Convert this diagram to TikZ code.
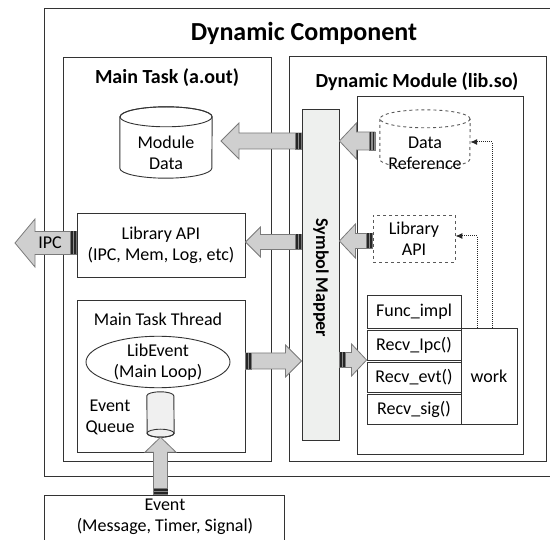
\documentclass[tikz,border=0pt]{standalone}
\usepackage{fontspec}
\setmainfont{Carlito}
\usetikzlibrary{calc,arrows.meta,shapes.geometric}
\definecolor{mapfill}{HTML}{EEF0EE}
\definecolor{arrfill}{HTML}{CFCFCF}
\definecolor{arrline}{HTML}{7A7A7A}
\newcommand\fatarrow[5]{%
  \coordinate (FT) at (#1);
  \coordinate (FH) at (#2);
  \coordinate (FB) at ($(FH)!#5pt!(FT)$);
  \coordinate (FE) at ($(FT)!6pt!(FH)$);
  \coordinate (FE1) at ($(FT)!1.5pt!(FH)$);
  \coordinate (FE2) at ($(FT)!4.5pt!(FH)$);
  \filldraw[fatarrow] ($(FT)!#3pt!90:(FH)$) -- ($(FB)!#3pt!90:(FH)$) -- ($(FB)!#4pt!90:(FH)$) -- (FH) -- ($(FB)!#4pt!-90:(FH)$) -- ($(FB)!#3pt!-90:(FH)$) -- ($(FT)!#3pt!-90:(FH)$) -- cycle;
  \filldraw[fill=black!45, draw=arrline, line width=0.6pt] ($(FT)!#3pt!90:(FH)$) -- ($(FE)!#3pt!90:(FH)$) -- ($(FE)!#3pt!-90:(FH)$) -- ($(FT)!#3pt!-90:(FH)$) -- cycle;
  \draw[black!85, line width=1.6pt] ($(FE1)!#3pt!90:(FH)$) -- ($(FE1)!#3pt!-90:(FH)$);
  \draw[black!85, line width=1.6pt] ($(FE2)!#3pt!90:(FH)$) -- ($(FE2)!#3pt!-90:(FH)$);
}
\begin{document}
\begin{tikzpicture}[x=1pt,y=-1pt,
  frame/.style={draw=black!80, line width=1pt, rectangle, inner sep=0pt},
  box/.style={draw=black!80, line width=0.9pt, rectangle, inner sep=0pt, fill=white},
  ghost/.style={rectangle, inner sep=0pt},
  txt/.style={font=\fontsize{18}{21}\selectfont, align=center, inner sep=0pt},
  ttl/.style={font=\bfseries\fontsize{20}{24}\selectfont, inner sep=0pt},
  fatarrow/.style={fill=arrfill, draw=arrline, line width=0.8pt, line join=miter},
  dotarrow/.style={densely dotted, line width=1pt, black!85, -{Latex[length=7pt,width=6pt]}},
  cyl/.style={line width=0.9pt, draw=black!80},
]
\useasboundingbox (0,0) rectangle (550,540);
% frames
\node[frame, minimum width=508, minimum height=468] (outer) at (298,243) {};
\node[ttl, font=\bfseries\fontsize{26}{30}\selectfont] (title) at (304,33) {Dynamic Component};
\node[frame, minimum width=208, minimum height=404] (main) at (167,260) {};
\node[ttl] (maintitle) at (167,78) {Main Task (a.out)};
\node[frame, minimum width=257, minimum height=405] (dyn) at (417.5,259.5) {};
\node[ttl] (dyntitle) at (417,82) {Dynamic Module (lib.so)};
\node[frame, minimum width=166, minimum height=358] (inner) at (440,276) {};
\node[box, fill=mapfill, minimum width=37, minimum height=331] (mapper) at (320.5,274.5) {};
\node[txt, font=\bfseries\fontsize{18}{21}\selectfont, rotate=-90] (maptxt) at (321,278) {Symbol Mapper};
% Module data cylinder
\node[ghost, minimum width=92, minimum height=71] (moddata) at (166,142.5) {};
\draw[cyl, fill=white] ($(moddata.north west)+(0,10)$) -- ($(moddata.south west)+(0,-10)$) arc[start angle=180, end angle=0, x radius=46, y radius=10] -- ($(moddata.north east)+(0,10)$) arc[start angle=0, end angle=-180, x radius=46, y radius=10] -- cycle;
\draw[cyl] ($(moddata.north)+(0,10)$) ellipse[x radius=46, y radius=10];
\node[txt] (moddatat) at (166,153) {Module\\Data};
% Library API (main)
\node[box, txt, minimum width=168, minimum height=64] (libapi) at (161,245) {Library API\\(IPC, Mem, Log, etc)};
% Thread
\node[box, minimum width=168, minimum height=152] (thread) at (161,376) {};
\node[txt] (threadt) at (158,319) {Main Task Thread};
\node[ellipse, draw=black!80, line width=0.9pt, txt, minimum width=144, minimum height=49] (libevent) at (158,362) {LibEvent\\(Main Loop)};
% Queue
\node[ghost, minimum width=27, minimum height=45] (queue) at (160.5,414.5) {};
\draw[cyl, fill=gray!12] ($(queue.north west)+(0,4)$) arc[start angle=180, end angle=360, x radius=13.5, y radius=4] -- ($(queue.south east)+(0,-4)$) arc[start angle=0, end angle=180, x radius=13.5, y radius=4] -- cycle;
\draw[cyl] ($(queue.south)+(0,-4)$) ellipse[x radius=13.5, y radius=4];
\node[txt] (queuet) at (110,417) {Event\\Queue};
% Event
\node[box, minimum width=240, minimum height=47] (event) at (164,518.5) {};
\node[txt] (eventt) at (165,517) {Event\\(Message, Timer, Signal)};
% Data reference
\node[ghost, minimum width=90, minimum height=58] (dataref) at (425,139) {};
\draw[cyl, dashed, draw=black!65] ($(dataref.north west)+(0,9)$) -- ($(dataref.south west)+(0,-9)$) arc[start angle=180, end angle=0, x radius=45, y radius=9] -- ($(dataref.north east)+(0,9)$);
\draw[cyl, dashed, draw=black!65] ($(dataref.north)+(0,9)$) ellipse[x radius=45, y radius=9];
\node[txt] (datareft) at (425,153) {Data\\Reference};
% Library API dashed
\node[box, txt, dashed, draw=black!65, minimum width=82, minimum height=47] (libdash) at (414,238.5) {Library\\API};
% functions
\node[box, txt, minimum width=94, minimum height=33] (func) at (414,311.5) {Func\_impl};
\node[box, txt, minimum width=94, minimum height=30] (ripc) at (414,345) {Recv\_Ipc()};
\node[box, txt, minimum width=94, minimum height=30] (revt) at (414,377) {Recv\_evt()};
\node[box, txt, minimum width=94, minimum height=30] (rsig) at (414,409) {Recv\_sig()};
\node[box, txt, minimum width=56, minimum height=96] (work) at (489,376) {work};
% helper coordinates
\coordinate (y141) at (0,141);
\coordinate (y241) at (0,241);
\coordinate (y242) at (0,242);
\coordinate (y243) at (0,243);
\coordinate (y360) at (0,360);
\coordinate (y361) at (0,361);
\coordinate (a1h) at (221,141);
\coordinate (a2t) at (375,141);
\coordinate (ipc) at (15,243);
% fat arrows
\fatarrow{mapper.west |- y141}{a1h}{8}{18}{18}
\fatarrow{a2t}{mapper.east |- y141}{9}{18}{17}
\fatarrow{mapper.west |- y242}{libapi.east |- y242}{7.5}{15}{15}
\fatarrow{libdash.west |- y241}{mapper.east |- y241}{7.5}{17}{16}
\fatarrow{libapi.west |- y243}{ipc}{11.5}{24}{20}
\node[txt] (ipct) at (50,243) {IPC};
\fatarrow{thread.east |- y361}{mapper.west |- y361}{8}{16}{16}
\fatarrow{mapper.east |- y360}{ripc.west |- y360}{7.5}{16}{15}
\fatarrow{queue.south |- event.north}{queue.south}{7}{15.5}{15}
% dotted references
\draw[dotarrow] ([xshift=3pt]work.north) |- ([yshift=-3pt]dataref.east);
\draw[dotarrow] ([xshift=-12pt]work.north) |- ([yshift=2.5pt]libdash.east);
\end{tikzpicture}
\end{document}
